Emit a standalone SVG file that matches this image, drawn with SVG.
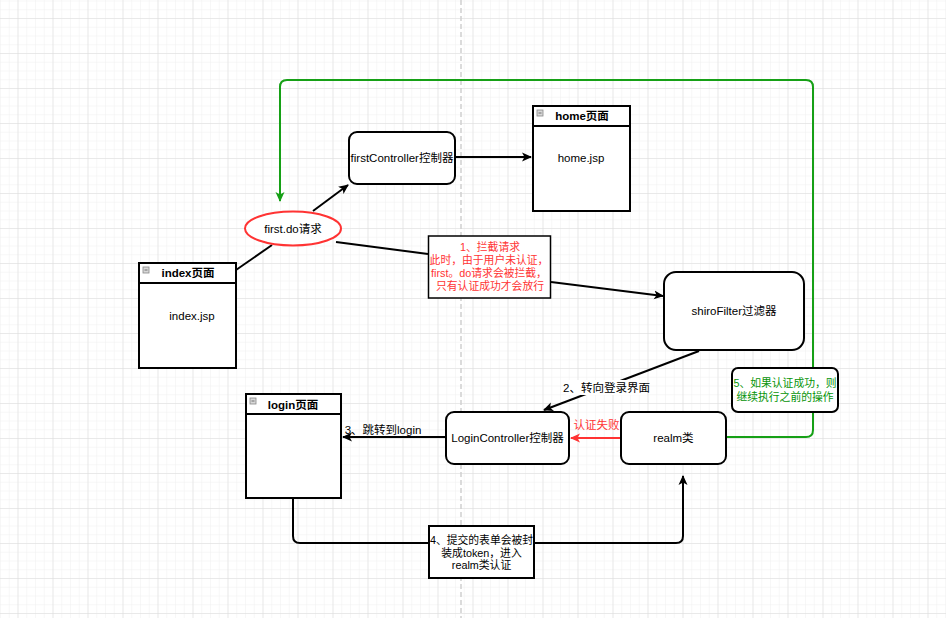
<svg xmlns="http://www.w3.org/2000/svg" width="946" height="618" viewBox="0 0 946 618">
<defs>
<pattern id="minor" x="17.5" y="18" width="8.75" height="8.75" patternUnits="userSpaceOnUse">
<path d="M0 0H8.75M0 0V8.75" fill="none" stroke="#f0f0f0" stroke-width="1"/>
</pattern>
<pattern id="major" x="17.5" y="18" width="35" height="35" patternUnits="userSpaceOnUse">
<path d="M0 0H35M0 0V35" fill="none" stroke="#dcdcdc" stroke-width="1"/>
</pattern>
<marker id="ab" markerWidth="10" markerHeight="10" refX="9" refY="5" orient="auto" markerUnits="userSpaceOnUse">
<path d="M0,0.5 L10,5 L0,9.5 L2.5,5 Z" fill="#000"/>
</marker>
<marker id="ar" markerWidth="10" markerHeight="10" refX="9" refY="5" orient="auto" markerUnits="userSpaceOnUse">
<path d="M0,0.5 L10,5 L0,9.5 L2.5,5 Z" fill="#ff3333"/>
</marker>
<marker id="ag" markerWidth="10" markerHeight="10" refX="9" refY="5" orient="auto" markerUnits="userSpaceOnUse">
<path d="M0,0.5 L10,5 L0,9.5 L2.5,5 Z" fill="#16a016"/>
</marker>
</defs>
<style>
text{font-family:"Liberation Sans","Noto Sans CJK SC",sans-serif;font-size:11.5px;fill:#000;text-anchor:middle;dominant-baseline:central}
.b{font-weight:bold}
.n{font-size:10.8px}
.red{fill:#ff3333}
.grn{fill:#079407}
.box{fill:#fff;stroke:#000;stroke-width:2}
.ln{fill:none;stroke:#000;stroke-width:2}
.icon{fill:#d8d8d8;stroke:#888;stroke-width:0.8}
.lbl{fill:#fff}
</style>
<rect width="946" height="618" fill="#fff"/>
<rect width="946" height="618" fill="url(#minor)"/>
<rect width="946" height="618" fill="url(#major)"/>
<line x1="461" y1="0" x2="461" y2="618" stroke="#cfcfcf" stroke-width="1.5" stroke-dasharray="5,3"/>

<g id="connectors">
<path class="ln" d="M236,270 L272,245"/>
<path class="ln" d="M313,211 L348,185" marker-end="url(#ab)"/>
<path class="ln" d="M455,157 L531,157" marker-end="url(#ab)"/>
<path class="ln" d="M336,242 L428,254"/>
<path class="ln" d="M551,282 L663,296" marker-end="url(#ab)"/>
<path class="ln" d="M699,351 L544,410" marker-end="url(#ab)"/>
<rect class="lbl" x="566" y="380" width="81" height="15"/>
<text x="606.5" y="387.5">2、转向登录界面</text>
<path d="M621,438 L571,438" fill="none" stroke="#ff3333" stroke-width="2" marker-end="url(#ar)"/>
<text class="red" x="596.5" y="425">认证失败</text>
<path class="ln" d="M446,437 L343,437" marker-end="url(#ab)"/>
<text x="383" y="430">3、跳转到login</text>
<path class="ln" d="M293,498 V536 Q293,543 300,543 H676 Q683,543 683,536 V476" marker-end="url(#ab)"/>
<path d="M726,437 H806 Q813,437 813,430 V87 Q813,80 806,80 H287 Q280,80 280,87 V201" fill="none" stroke="#16a016" stroke-width="2" marker-end="url(#ag)"/>
</g>

<g id="index">
<rect class="box" x="139" y="263" width="97" height="105"/>
<line x1="139" y1="283" x2="236" y2="283" stroke="#000" stroke-width="2"/>
<rect class="icon" x="143" y="267" width="6" height="6"/>
<line x1="144.5" y1="270" x2="147.5" y2="270" stroke="#555" stroke-width="0.8"/>
<text class="b" x="188" y="273">index页面</text>
<text x="192" y="316">index.jsp</text>
</g>

<g id="firstdo">
<ellipse cx="293" cy="228.5" rx="48" ry="17" fill="#fff" stroke="#ff3333" stroke-width="2"/>
<text x="293" y="228.5">first.do请求</text>
</g>

<g id="firstController">
<rect class="box" x="349" y="132" width="106" height="52" rx="8"/>
<text x="402" y="158">firstController控制器</text>
</g>

<g id="home">
<rect class="box" x="533" y="106" width="97" height="105"/>
<line x1="533" y1="126" x2="630" y2="126" stroke="#000" stroke-width="2"/>
<rect class="icon" x="537" y="110" width="6" height="6"/>
<line x1="538.5" y1="113" x2="541.5" y2="113" stroke="#555" stroke-width="0.8"/>
<text class="b" x="582" y="116">home页面</text>
<text x="581" y="158">home.jsp</text>
</g>

<g id="note1">
<rect x="428.5" y="236" width="122" height="62" fill="#fff" stroke="#000" stroke-width="1.5"/>
<text class="red n" x="490" y="247">1、拦截请求</text>
<text class="red n" x="489" y="260">此时，由于用户未认证，</text>
<text class="red n" x="489" y="273">first。do请求会被拦截，</text>
<text class="red n" x="490" y="286">只有认证成功才会放行</text>
</g>

<g id="shiroFilter">
<rect class="box" x="664" y="272" width="140" height="78" rx="12"/>
<text x="734" y="311">shiroFilter过滤器</text>
</g>

<g id="loginController">
<rect class="box" x="446" y="412" width="123" height="52" rx="8"/>
<text x="507.5" y="438">LoginController控制器</text>
</g>

<g id="realm">
<rect class="box" x="621" y="412" width="105" height="52" rx="8"/>
<text x="673.5" y="438">realm类</text>
</g>

<g id="login">
<rect class="box" x="246" y="394" width="95" height="104"/>
<line x1="246" y1="414" x2="341" y2="414" stroke="#000" stroke-width="2"/>
<rect class="icon" x="250" y="398" width="6" height="6"/>
<line x1="251.5" y1="401" x2="254.5" y2="401" stroke="#555" stroke-width="0.8"/>
<text class="b" x="293" y="405">login页面</text>
</g>

<g id="note4">
<rect x="429" y="526" width="105" height="52" fill="#fff" stroke="#000" stroke-width="2"/>
<text class="n" x="481.5" y="539.5">4、提交的表单会被封</text>
<text class="n" x="481.5" y="552.5">装成token，进入</text>
<text class="n" x="481.5" y="565">realm类认证</text>
</g>

<g id="note5">
<rect x="732" y="368" width="106" height="44" rx="6" fill="#fff" stroke="#000" stroke-width="2"/>
<text class="grn n" x="785" y="383">5、如果认证成功，则</text>
<text class="grn n" x="785" y="397">继续执行之前的操作</text>
</g>
</svg>
